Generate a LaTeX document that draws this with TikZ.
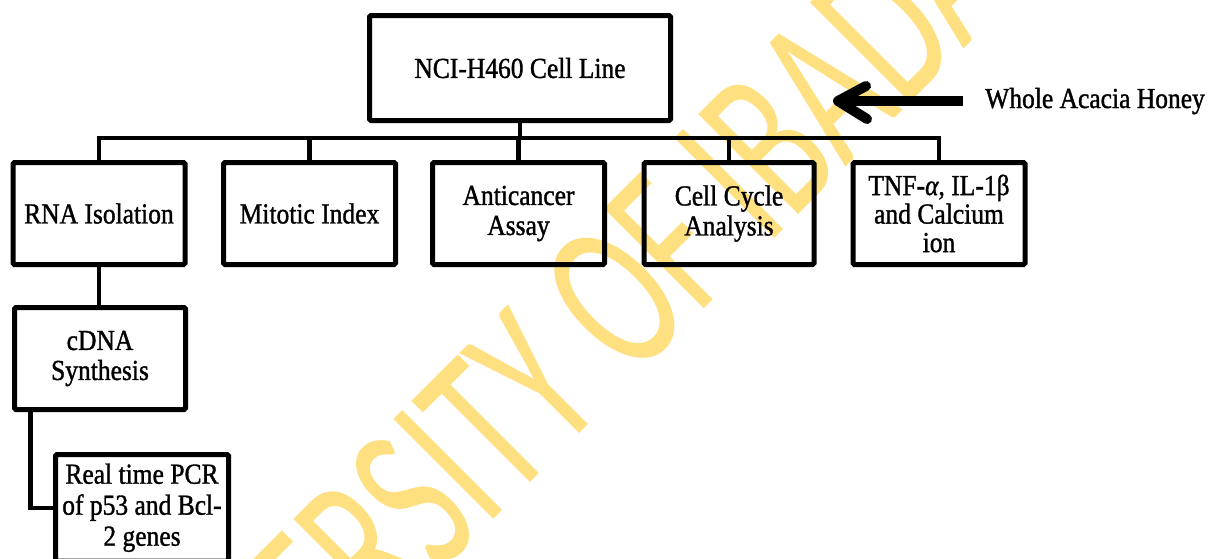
\documentclass[tikz,border=0pt]{standalone}
\usepackage{graphicx}
\usepackage{fontspec}
\setmainfont{Liberation Serif}[FakeStretch=0.88, FakeBold=1.2]
\newfontfamily\wmfont{Carlito}
\definecolor{wmgold}{RGB}{255,224,128}
\begin{document}
\begin{tikzpicture}[x=1pt,y=-1pt,
  box/.style={draw, line width=5pt, rounded corners=1.5pt, inner sep=0pt,
    align=center, font=\fontsize{29}{30}\selectfont},
  conn/.style={line width=4.5pt},
  shaft/.style={line width=10.5pt},
  barb/.style={line width=10pt, line cap=round, line join=round},
  wm/.style={text=wmgold, inner sep=0pt, font=\wmfont\fontsize{142}{142}\selectfont}]
\useasboundingbox (0,0) rectangle (1225,558);
\clip (0,0) rectangle (1225,558);
\fill[white] (0,0) rectangle (1225,558);

% diagonal watermark, behind everything
\node[wm, anchor=base west, rotate=45] (wmark) at (125.4,887.6)
  {\scalebox{1}[1.55]{UNIVERSITY OF IBADAN}};

% top box
\node[box, minimum width=301pt, minimum height=105pt] (cell) at (520,68) {NCI-H460 Cell Line};

% second row
\node[box, minimum width=172pt, minimum height=102pt] (rna) at (99,213.5) {RNA Isolation};
\node[box, minimum width=172pt, minimum height=102pt] (mit) at (309.5,213.5) {Mitotic Index};
\node[box, minimum width=172pt, minimum height=102pt] (anti) at (518.5,213.5) {Anticancer\\Assay};
\node[box, minimum width=170pt, minimum height=102pt] (cyc) at (729,213.5) {Cell Cycle\\Analysis};
\node[box, minimum width=172pt, minimum height=102pt, font=\fontsize{29}{28.5}\selectfont]
  (tnf) at (939,213.5) {TNF-\textit{α}, IL-1β\\and Calcium\\ion};

% RNA branch
\node[box, minimum width=171pt, minimum height=102pt] (cdna) at (100,358.5) {cDNA\\Synthesis};
\node[box, minimum width=173pt, minimum height=106.5pt, font=\fontsize{29}{31}\selectfont]
  (rt) at (142,507.75) {Real time PCR\\of p53 and Bcl-\\2 genes};

% treatment label and arrow
\node[anchor=base west, inner sep=0pt, font=\fontsize{29}{30}\selectfont] (honey) at (985,108) {Whole Acacia Honey};
\coordinate (tip) at (838,101);
\draw[shaft] (honey.west |- tip) ++(-22,0) -- (tip);
\draw[barb] (tip) ++(28,-15) -- (tip) -- ++(29,18);

% connectors
\coordinate (bus) at (520,140);
\draw[conn] (cell.south) -- (bus);
\draw[conn] (rna.north) -- ++(0,-22) -| (tnf.north);
\draw[conn] (mit.north) -- (mit.north |- bus);
\draw[conn] (anti.north) -- (anti.north |- bus);
\draw[conn] (cyc.north) -- (cyc.north |- bus);
\draw[conn] (rna.south) -- (cdna.north -| rna.south);
\draw[conn] ([xshift=18.5pt]cdna.south west) |- (rt.west);
\end{tikzpicture}
\end{document}
